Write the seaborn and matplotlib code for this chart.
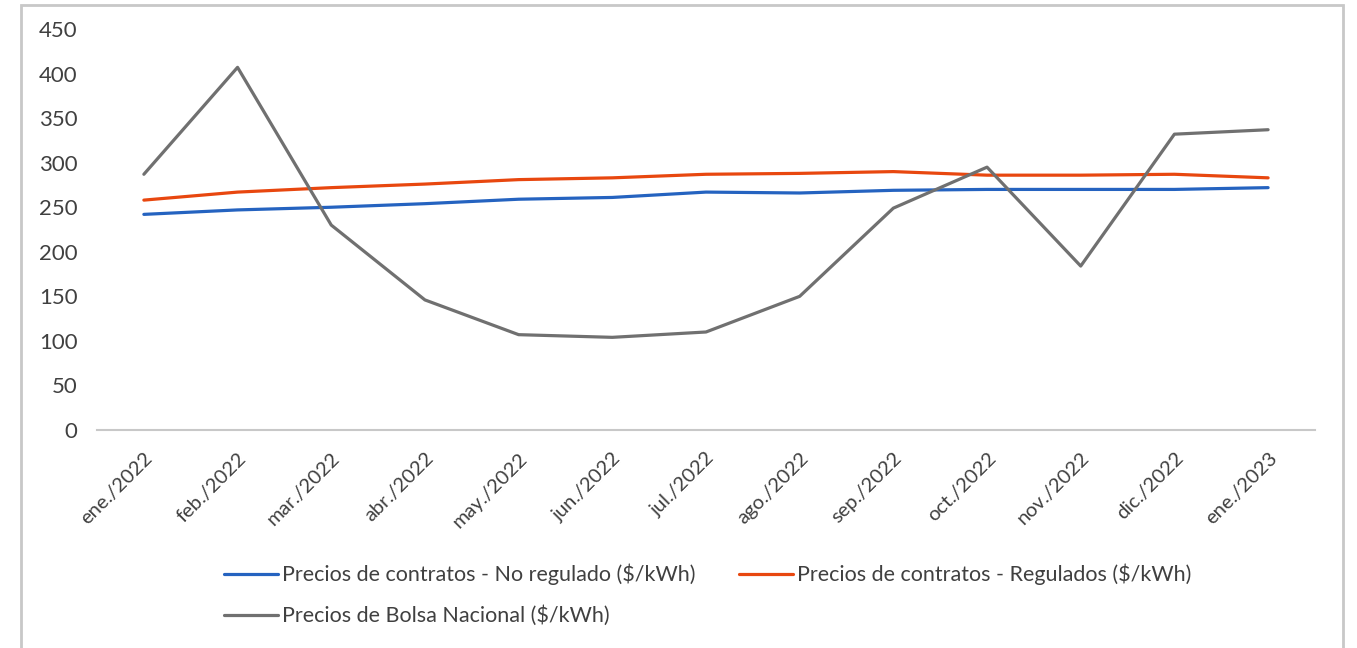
import pandas as pd
import matplotlib.pyplot as plt
import seaborn as sns
from matplotlib.patches import Rectangle

# Monthly prices ($/kWh)
months = ['ene./2022', 'feb./2022', 'mar./2022', 'abr./2022', 'may./2022', 'jun./2022', 'jul./2022',
          'ago./2022', 'sep./2022', 'oct./2022', 'nov./2022', 'dic./2022', 'ene./2023']
no_regulado = [242, 247, 250, 254, 259, 261, 267, 266, 269, 270, 270, 270, 272]
regulados = [258, 267, 272, 276, 281, 283, 287, 288, 290, 286, 286, 287, 283]
bolsa = [287, 407, 230, 146, 107, 104, 110, 150, 249, 295, 184, 332, 337]

names = ['Precios de contratos - No regulado ($/kWh)',
         'Precios de contratos - Regulados ($/kWh)',
         'Precios de Bolsa Nacional ($/kWh)']
colors = ['#2563c0', '#e8470f', '#707070']

df = pd.DataFrame({'idx': range(len(months)), names[0]: no_regulado, names[1]: regulados, names[2]: bolsa})
long_df = df.melt(id_vars='idx', var_name='serie', value_name='precio')

sns.set_style('white')
plt.rcParams['font.family'] = ['Lato', 'DejaVu Sans']

fig = plt.figure(figsize=(13.57, 6.48), dpi=100)
ax = fig.add_axes([0.0715, 0.3364, 0.8975, 0.6188])

sns.lineplot(data=long_df, x='idx', y='precio', hue='serie', palette=colors, linewidth=2.3, ax=ax, sort=False)

ax.set_xlim(-0.5, len(months) - 0.5)
ax.set_ylim(0, 450)
ax.set_yticks(range(0, 451, 50))
ax.set_xticks(range(len(months)))
ax.set_xticklabels(months, rotation=45, ha='right', rotation_mode='anchor', fontsize=14.5, color='#404040')
ax.tick_params(axis='y', labelsize=16, labelcolor='#404040', pad=14, length=0)
ax.tick_params(axis='x', length=0, pad=14)
ax.set_xlabel('')
ax.set_ylabel('')
for side in ['left', 'right', 'top']:
    ax.spines[side].set_visible(False)
ax.spines['bottom'].set_color('#c8c8c8')
ax.spines['bottom'].set_linewidth(1.5)

# row-wise legend order: two entries on first row, one on second
handles, labels = ax.get_legend_handles_labels()
order = [0, 2, 1]
ax.get_legend().remove()
fig.legend([handles[i] for i in order], [labels[i] for i in order],
           loc='upper left', bbox_to_anchor=(0.151, 0.16), ncol=2, frameon=False,
           fontsize=15.5, handlelength=2.5, columnspacing=2.0, labelspacing=0.95, handletextpad=0.2,
           labelcolor='#404040')

fig.patches.append(Rectangle((0.0155, -0.01), 0.974, 1.002, transform=fig.transFigure,
                             fill=False, edgecolor='#c8c8c8', linewidth=2))

plt.savefig('out.png', dpi=100)
